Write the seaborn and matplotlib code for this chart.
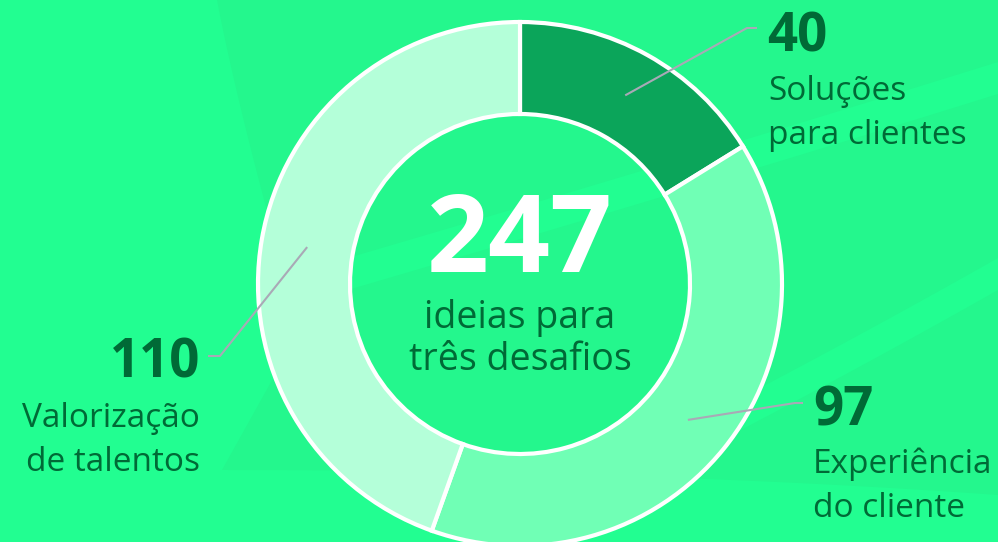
import numpy as np
import matplotlib
matplotlib.use("Agg")
import matplotlib.pyplot as plt
from matplotlib.patches import Polygon
import seaborn as sns

# data
values = [40, 97, 110]
numbers = ['40', '97', '110']
labels = ['Soluções\npara clientes', 'Experiência\ndo cliente', 'Valorização\nde talentos']
total_label = '247'
total_text = ['ideias para', 'três desafios']
seg_colors = ['#0BA55A', '#70FFB5', '#B4FFD9']

W, H = 998, 542
bg_bright = '#22FE91'
bg_dark = '#24F78D'
text_green = '#006A36'
line_grey = '#A9A9B6'

sns.set_style("white")
plt.rcParams['font.family'] = ['Open Sans', 'DejaVu Sans']

fig = plt.figure(figsize=(W / 100, H / 100), dpi=100)
fig.patch.set_facecolor(bg_bright)
ax = fig.add_axes([0, 0, 1, 1])
ax.set_facecolor(bg_bright)


def Y(y):
    # image coords (y down) -> axes coords (y up)
    return H - y


def curve(p0, p1, p2, n=40):
    # quadratic bezier, used for the soft background bands
    t = np.linspace(0, 1, n)[:, None]
    p0, p1, p2 = map(np.array, (p0, p1, p2))
    return (1 - t) ** 2 * p0 + 2 * (1 - t) * t * p1 + t ** 2 * p2


# faint background shapes
left_edge = curve((217, 0), (240, 120), (300, 330))
bottom_edge = curve((222, 470), (650, 470), (998, 495))
dark_shape = np.vstack([left_edge, bottom_edge, [(998, 0)]])
ax.add_patch(Polygon(np.c_[dark_shape[:, 0], Y(dark_shape[:, 1])], closed=True,
                     facecolor=bg_dark, edgecolor='none', zorder=0))
for top in [((300, 272), (700, 155), (998, 62)), ((600, 470), (800, 370), (998, 258))]:
    up = curve(*top)
    lo = curve(*[(x, y + 32) for x, y in top])[::-1]
    pts = np.vstack([up, lo])
    ax.add_patch(Polygon(np.c_[pts[:, 0], Y(pts[:, 1])], closed=True,
                         facecolor=bg_bright, edgecolor='none', zorder=0.5))

# donut
cx, cy = 520, 284
r_out, ring = 262, 92
wedges, _ = ax.pie(values, colors=sns.color_palette(seg_colors), startangle=90,
                   counterclock=False, radius=r_out, center=(cx, Y(cy)),
                   wedgeprops=dict(width=ring, edgecolor='white', linewidth=3))
for w in wedges:
    w.set_zorder(2)

ax.set_xlim(0, W)
ax.set_ylim(0, H)
ax.set_aspect('equal')
ax.axis('off')

# center text
ax.text(cx, Y(272), total_label, ha='center', va='baseline', fontsize=78,
        fontweight='bold', color='white', zorder=3)
ax.text(cx, Y(328), total_text[0], ha='center', va='baseline', fontsize=27,
        color=text_green, zorder=3)
ax.text(cx, Y(370), total_text[1], ha='center', va='baseline', fontsize=27,
        color=text_green, zorder=3)

# leader lines + labels
elbows = [((747, 28), (757, 28)), ((795, 403), (803, 403)), ((220, 356), (208, 356))]
num_pos = [(767, 51, 'left'), (813, 425, 'left'), (200, 378, 'right')]
lab_pos = [(768, 100), (813, 473), (200, 427)]
r_mid = r_out - ring / 2
for i, w in enumerate(wedges):
    ang = np.deg2rad((w.theta1 + w.theta2) / 2)
    x0 = w.center[0] + r_mid * np.cos(ang)
    y0 = w.center[1] + r_mid * np.sin(ang)
    (ex, ey), (tx, ty) = elbows[i]
    ax.plot([x0, ex, tx], [y0, Y(ey), Y(ty)], color=line_grey, lw=1.5,
            zorder=4, solid_capstyle='butt')
    nx, ny, ha = num_pos[i]
    ax.text(nx, Y(ny), numbers[i], ha=ha, va='baseline', fontsize=38,
            fontweight='bold', color=text_green, zorder=4)
    lx, ly = lab_pos[i]
    for j, line in enumerate(labels[i].split('\n')):
        ax.text(lx, Y(ly + 44 * j), line, ha=ha, va='baseline', fontsize=24,
                color=text_green, zorder=4)

fig.savefig('out.png', dpi=100, facecolor=fig.get_facecolor())
